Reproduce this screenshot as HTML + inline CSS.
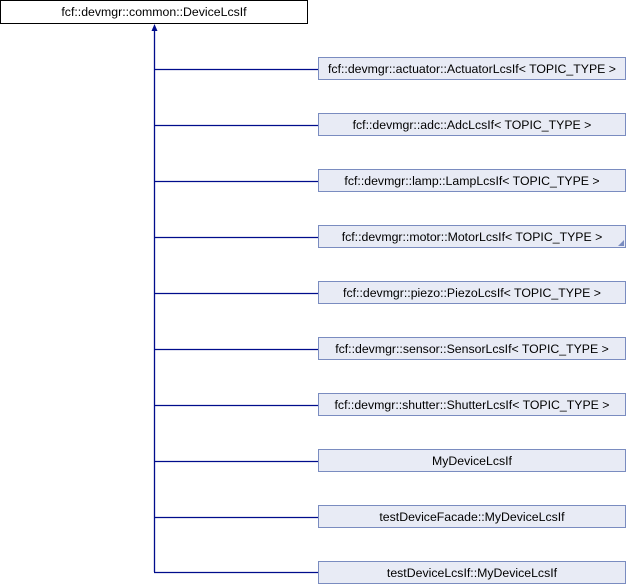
<!DOCTYPE html>
<html><head><style>body{margin:0;background:#fff}svg{display:block}text{font-family:"Liberation Sans",Arial,sans-serif;font-size:12.3px;fill:#000}</style></head>
<body>
<svg width="626" height="584" viewBox="0 0 626 584" xmlns="http://www.w3.org/2000/svg">
<rect x="0.5" y="0.5" width="307" height="23" fill="#fff" stroke="#000"/>
<text x="154" y="16" text-anchor="middle">fcf::devmgr::common::DeviceLcsIf</text>
<line x1="154.5" y1="30" x2="154.5" y2="572" stroke="#000c8c" stroke-width="1.3"/>
<polygon points="154.5,24 151.5,31 157.5,31" fill="#000c8c"/>
<g stroke="#000c8c" stroke-width="1.3">
<line x1="154" y1="69.5" x2="318" y2="69.5"/><line x1="154" y1="125.5" x2="318" y2="125.5"/>
<line x1="154" y1="181.5" x2="318" y2="181.5"/><line x1="154" y1="237.5" x2="318" y2="237.5"/>
<line x1="154" y1="293.5" x2="318" y2="293.5"/><line x1="154" y1="349.5" x2="318" y2="349.5"/>
<line x1="154" y1="405.5" x2="318" y2="405.5"/><line x1="154" y1="461.5" x2="318" y2="461.5"/>
<line x1="154" y1="517.5" x2="318" y2="517.5"/><line x1="154" y1="572.5" x2="318" y2="572.5"/>
</g>
<g fill="#e8ebf5" stroke="#7a8cc0">
<rect x="318.5" y="57.5" width="307" height="22"/><rect x="318.5" y="113.5" width="307" height="22"/>
<rect x="318.5" y="169.5" width="307" height="22"/><rect x="318.5" y="225.5" width="307" height="22"/>
<rect x="318.5" y="281.5" width="307" height="22"/><rect x="318.5" y="337.5" width="307" height="22"/>
<rect x="318.5" y="393.5" width="307" height="22"/><rect x="318.5" y="449.5" width="307" height="22"/>
<rect x="318.5" y="505.5" width="307" height="22"/><rect x="318.5" y="561.5" width="307" height="22"/>
</g>
<polygon points="624,240 624,246 618,246" fill="#7a8cc0"/>
<g text-anchor="middle">
<text x="472" y="73">fcf::devmgr::actuator::ActuatorLcsIf&lt; TOPIC_TYPE &gt;</text>
<text x="472" y="129">fcf::devmgr::adc::AdcLcsIf&lt; TOPIC_TYPE &gt;</text>
<text x="472" y="185">fcf::devmgr::lamp::LampLcsIf&lt; TOPIC_TYPE &gt;</text>
<text x="472" y="241">fcf::devmgr::motor::MotorLcsIf&lt; TOPIC_TYPE &gt;</text>
<text x="472" y="297">fcf::devmgr::piezo::PiezoLcsIf&lt; TOPIC_TYPE &gt;</text>
<text x="472" y="353">fcf::devmgr::sensor::SensorLcsIf&lt; TOPIC_TYPE &gt;</text>
<text x="472" y="409">fcf::devmgr::shutter::ShutterLcsIf&lt; TOPIC_TYPE &gt;</text>
<text x="472" y="465">MyDeviceLcsIf</text>
<text x="472" y="521">testDeviceFacade::MyDeviceLcsIf</text>
<text x="472" y="577">testDeviceLcsIf::MyDeviceLcsIf</text>
</g>
</svg>
</body></html>
